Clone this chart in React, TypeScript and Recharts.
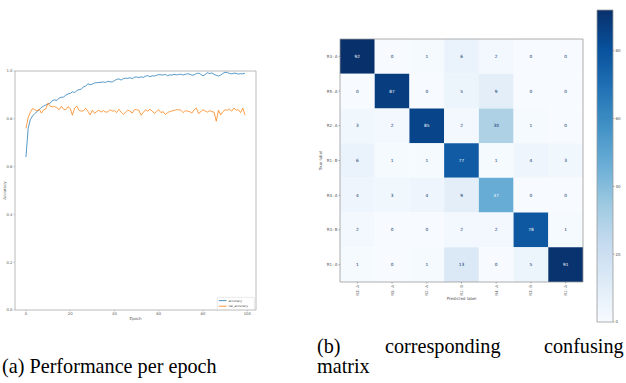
import React from 'react';
import {
  LineChart,
  Line,
  XAxis,
  YAxis,
  ReferenceArea,
  Legend,
  ComposedChart,
  Scatter,
} from 'recharts';

// ---------------- Data: (a) performance per epoch ----------------
const accuracy = [
  0.640, 0.760, 0.797, 0.812, 0.822, 0.830, 0.838, 0.848, 0.853, 0.858,
  0.862, 0.866, 0.876, 0.879, 0.877, 0.887, 0.890, 0.891, 0.899, 0.904,
  0.906, 0.913, 0.910, 0.918, 0.922, 0.924, 0.934, 0.937, 0.946, 0.943,
  0.945, 0.950, 0.951, 0.952, 0.953, 0.954, 0.952, 0.957, 0.955, 0.954,
  0.960, 0.965, 0.967, 0.962, 0.968, 0.970, 0.969, 0.972, 0.968, 0.974,
  0.975, 0.972, 0.976, 0.973, 0.978, 0.981, 0.976, 0.980, 0.979, 0.982,
  0.985, 0.984, 0.983, 0.986, 0.980, 0.984, 0.983, 0.986, 0.984, 0.985,
  0.987, 0.983, 0.986, 0.988, 0.987, 0.982, 0.984, 0.989, 0.991, 0.986,
  0.980, 0.985, 0.993, 0.989, 0.992, 0.986, 0.982, 0.979, 0.983, 0.990,
  0.995, 0.993, 0.990, 0.988, 0.991, 0.990, 0.987, 0.989, 0.988, 0.991,
];

const valAccuracy = [
  0.760, 0.805, 0.828, 0.843, 0.838, 0.833, 0.840, 0.824, 0.838, 0.842,
  0.866, 0.852, 0.850, 0.851, 0.846, 0.838, 0.852, 0.840, 0.838, 0.851,
  0.843, 0.815, 0.845, 0.853, 0.835, 0.832, 0.834, 0.844, 0.831, 0.816,
  0.836, 0.823, 0.830, 0.836, 0.828, 0.834, 0.828, 0.829, 0.838, 0.832,
  0.834, 0.826, 0.840, 0.828, 0.818, 0.828, 0.836, 0.832, 0.824, 0.838,
  0.838, 0.836, 0.815, 0.826, 0.838, 0.832, 0.840, 0.833, 0.823, 0.830,
  0.838, 0.826, 0.830, 0.818, 0.826, 0.830, 0.833, 0.835, 0.838, 0.838,
  0.836, 0.826, 0.834, 0.832, 0.830, 0.824, 0.838, 0.845, 0.822, 0.830,
  0.838, 0.832, 0.828, 0.834, 0.830, 0.828, 0.790, 0.836, 0.816, 0.830,
  0.838, 0.836, 0.840, 0.832, 0.845, 0.836, 0.838, 0.826, 0.845, 0.815,
];

const epochTicks = [0, 20, 40, 60, 80, 100];
const accuracyTicks = [0, 0.2, 0.4, 0.6, 0.8, 1.0];

// ---------------- Data: (b) confusion matrix ----------------
const classLabels = ['R3: A', 'R5: A', 'R2: A', 'R1: B', 'R4: A', 'R3: B', 'R1: A'];
const rowR3A = [92, 0, 1, 6, 2, 0, 0];
const rowR5A = [0, 87, 0, 5, 9, 0, 0];
const rowR2A = [3, 2, 85, 2, 30, 1, 0];
const rowR1B = [6, 1, 1, 77, 1, 4, 3];
const rowR4A = [4, 3, 4, 9, 47, 0, 0];
const rowR3B = [2, 0, 0, 2, 2, 78, 1];
const rowR1A = [1, 0, 1, 13, 0, 5, 91];
const colorbarTicks = [0, 20, 40, 60, 80];

// ---------------- Helpers ----------------
const BLUES = ['#f7fbff', '#deebf7', '#c6dbef', '#9ecae1', '#6baed6', '#4292c6', '#2171b5', '#08519c', '#08306b'];

function hexToRgb(h: string) {
  const n = parseInt(h.slice(1), 16);
  return [(n >> 16) & 255, (n >> 8) & 255, n & 255];
}
function blues(t: number) {
  const c = Math.max(0, Math.min(1, t)) * (BLUES.length - 1);
  const i = Math.min(BLUES.length - 2, Math.floor(c));
  const f = c - i;
  const a = hexToRgb(BLUES[i]);
  const b = hexToRgb(BLUES[i + 1]);
  const m = a.map((v, k) => Math.round(v + (b[k] - v) * f));
  return `rgb(${m[0]},${m[1]},${m[2]})`;
}

const lineData = accuracy.map((a, i) => ({ epoch: i, accuracy: a, val_accuracy: valAccuracy[i] }));

const matrixRows = [rowR3A, rowR5A, rowR2A, rowR1B, rowR4A, rowR3B, rowR1A];
const cells = matrixRows.flatMap((r, row) => r.map((value, col) => ({ row, col, value })));
const vMin = Math.min(...cells.map((c) => c.value));
const vMax = Math.max(...cells.map((c) => c.value));
const threshold = (vMin + vMax) / 2;

const SANS = 'DejaVu Sans, sans-serif';
const TICK_FILL = '#555';
const FRAME = '#a8a8a8';

const LegendContent = (props: any) => {
  const payload = props.payload || [];
  return (
    <svg width={38} height={13} style={{ display: 'block', overflow: 'visible' }}>
      <rect x={0.3} y={0.3} width={37} height={12.2} rx={0.8} fill="#fff" stroke="#d0d0d0" strokeWidth={0.5} />
      {payload.map((p: any, i: number) => (
        <g key={p.value}>
          <line x1={1.8} x2={9.5} y1={3.6 + i * 5.6} y2={3.6 + i * 5.6} stroke={p.color} strokeWidth={0.8} />
          <text x={11.5} y={3.6 + i * 5.6} dominantBaseline="central" fontSize={3} fontFamily={SANS} fill="#444">
            {p.value}
          </text>
        </g>
      ))}
    </svg>
  );
};

const RotatedTick = (props: any) => {
  const { x, y, payload } = props;
  return (
    <text
      x={0}
      y={0}
      transform={`translate(${x},${y}) rotate(-90)`}
      textAnchor="end"
      dominantBaseline="central"
      fontSize={4}
      fontFamily={SANS}
      fill={TICK_FILL}
    >
      {classLabels[payload.value]}
    </text>
  );
};

const RowTick = (props: any) => {
  const { x, y, payload } = props;
  return (
    <text x={x} y={y} textAnchor="end" dominantBaseline="central" fontSize={4} fontFamily={SANS} fill={TICK_FILL}>
      {classLabels[payload.value]}
    </text>
  );
};

const VerticalAxisTitle = (title: string, gap: number) => (p: any) => {
  const vb = p.viewBox;
  const x = vb.x - gap;
  const y = vb.y + vb.height / 2;
  return (
    <text
      x={x}
      y={y}
      transform={`rotate(-90, ${x}, ${y})`}
      textAnchor="middle"
      dominantBaseline="central"
      fontSize={4}
      fontFamily={SANS}
      fill={TICK_FILL}
    >
      {title}
    </text>
  );
};

const serif = "'Liberation Serif', 'Times New Roman', serif";
const captionStyle: React.CSSProperties = {
  position: 'absolute',
  fontFamily: serif,
  fontSize: 20.2,
  lineHeight: '20px',
  color: '#000',
  whiteSpace: 'nowrap',
};

export default function App() {
  return (
    <div style={{ position: 'absolute', left: 0, top: 0, width: 626, height: 383, background: '#fff', overflow: 'hidden' }}>
      {/* (a) accuracy per epoch */}
      <div style={{ position: 'absolute', left: 0, top: 0 }}>
        <LineChart width={270} height={330} data={lineData} margin={{ top: 71, left: 14, right: 14, bottom: 19 }}>
          <XAxis
            dataKey="epoch"
            type="number"
            domain={[-4.95, 103.95]}
            allowDataOverflow
            ticks={epochTicks}
            interval={0}
            height={1}
            tickSize={1.5}
            tickMargin={1}
            axisLine={false}
            tickLine={{ stroke: FRAME, strokeWidth: 0.6 }}
            tick={{ fontSize: 3.8, fill: TICK_FILL, fontFamily: SANS }}
            label={{ value: 'Epoch', position: 'bottom', offset: 6, fontSize: 4, fill: TICK_FILL, fontFamily: SANS }}
          />
          <YAxis
            type="number"
            domain={[0, 1]}
            allowDataOverflow
            ticks={accuracyTicks}
            interval={0}
            width={1}
            tickSize={1.5}
            tickMargin={1}
            axisLine={false}
            tickLine={{ stroke: FRAME, strokeWidth: 0.6 }}
            tick={{ fontSize: 3.8, fill: TICK_FILL, fontFamily: SANS }}
            tickFormatter={(v: number) => v.toFixed(1)}
            label={{ content: VerticalAxisTitle('Accuracy', 10) }}
          />
          <ReferenceArea x1={-4.95} x2={103.95} y1={0} y2={1} fill="none" stroke={FRAME} strokeWidth={0.8} />
          <Line type="linear" dataKey="accuracy" name="accuracy" stroke="#1f77b4" strokeWidth={0.75} dot={false} isAnimationActive={false} />
          <Line type="linear" dataKey="val_accuracy" name="val_accuracy" stroke="#ff7f0e" strokeWidth={0.75} dot={false} isAnimationActive={false} />
          <Legend
            layout="vertical"
            align="center"
            verticalAlign="middle"
            content={LegendContent}
            wrapperStyle={{ left: 217, top: 296.5, width: 38, height: 13 }}
          />
        </LineChart>
      </div>

      {/* (b) confusion matrix */}
      <div style={{ position: 'absolute', left: 300, top: 0 }}>
        <ComposedChart width={300} height={330} margin={{ top: 39, left: 39, right: 17, bottom: 47 }}>
          <XAxis
            type="number"
            dataKey="col"
            domain={[-0.5, 6.5]}
            allowDataOverflow
            ticks={classLabels.map((_, i) => i)}
            interval={0}
            height={1}
            tickSize={1.5}
            tickMargin={1.5}
            axisLine={false}
            tickLine={{ stroke: '#777', strokeWidth: 0.6 }}
            tick={<RotatedTick />}
            label={{ value: 'Predicted label', position: 'bottom', offset: 14, fontSize: 4, fill: TICK_FILL, fontFamily: SANS }}
          />
          <YAxis
            type="number"
            dataKey="row"
            domain={[-0.5, 6.5]}
            allowDataOverflow
            reversed
            ticks={classLabels.map((_, i) => i)}
            interval={0}
            width={1}
            tickSize={1.5}
            tickMargin={1}
            axisLine={false}
            tickLine={{ stroke: '#777', strokeWidth: 0.6 }}
            tick={<RowTick />}
            label={{ content: VerticalAxisTitle('True label', 19) }}
          />
          {cells.map((c) => (
            <ReferenceArea
              key={`${c.row}-${c.col}`}
              x1={c.col - 0.5}
              x2={c.col + 0.5}
              y1={c.row - 0.5}
              y2={c.row + 0.5}
              fill={blues((c.value - vMin) / (vMax - vMin))}
              fillOpacity={1}
              stroke="none"
              ifOverflow="visible"
              label={{
                value: String(c.value),
                position: 'center',
                fontSize: 4.3,
                fontFamily: SANS,
                fill: c.value > threshold ? BLUES[0] : BLUES[8],
              }}
            />
          ))}
          <ReferenceArea x1={-0.5} x2={6.5} y1={-0.5} y2={6.5} fill="none" stroke="#999" strokeWidth={0.8} ifOverflow="visible" />
          <Scatter data={cells} dataKey="row" shape={() => <g />} isAnimationActive={false} />
        </ComposedChart>
      </div>

      {/* colorbar */}
      <div style={{ position: 'absolute', left: 590, top: 0 }}>
        <ComposedChart width={36} height={340} margin={{ top: 10, left: 7, right: 12, bottom: 18 }}>
          <defs>
            <linearGradient id="bluesBar" x1="0" y1="1" x2="0" y2="0">
              {BLUES.map((c, i) => (
                <stop key={c} offset={i / (BLUES.length - 1)} stopColor={c} />
              ))}
            </linearGradient>
          </defs>
          <XAxis type="number" dataKey="x" domain={[0, 1]} hide />
          <YAxis
            type="number"
            dataKey="v"
            orientation="right"
            domain={[vMin, vMax]}
            allowDataOverflow
            ticks={colorbarTicks}
            interval={0}
            width={1}
            tickSize={1.5}
            tickMargin={1}
            axisLine={false}
            tickLine={{ stroke: '#777', strokeWidth: 0.6 }}
            tick={{ fontSize: 4, fill: TICK_FILL, fontFamily: SANS }}
          />
          <ReferenceArea x1={0} x2={1} y1={vMin} y2={vMax} fill="url(#bluesBar)" fillOpacity={1} stroke="#999" strokeWidth={0.8} ifOverflow="visible" />
          <Scatter data={[{ x: 0.5, v: vMin }, { x: 0.5, v: vMax }]} dataKey="v" shape={() => <g />} isAnimationActive={false} />
        </ComposedChart>
      </div>

      {/* captions */}
      <div style={{ ...captionStyle, left: 2, top: 356 }}>(a) Performance per epoch</div>
      <div style={{ ...captionStyle, left: 317, top: 336 }}>(b)</div>
      <div style={{ ...captionStyle, left: 385, top: 336 }}>corresponding</div>
      <div style={{ ...captionStyle, left: 544, top: 336 }}>confusing</div>
      <div style={{ ...captionStyle, left: 317, top: 356 }}>matrix</div>
    </div>
  );
}
